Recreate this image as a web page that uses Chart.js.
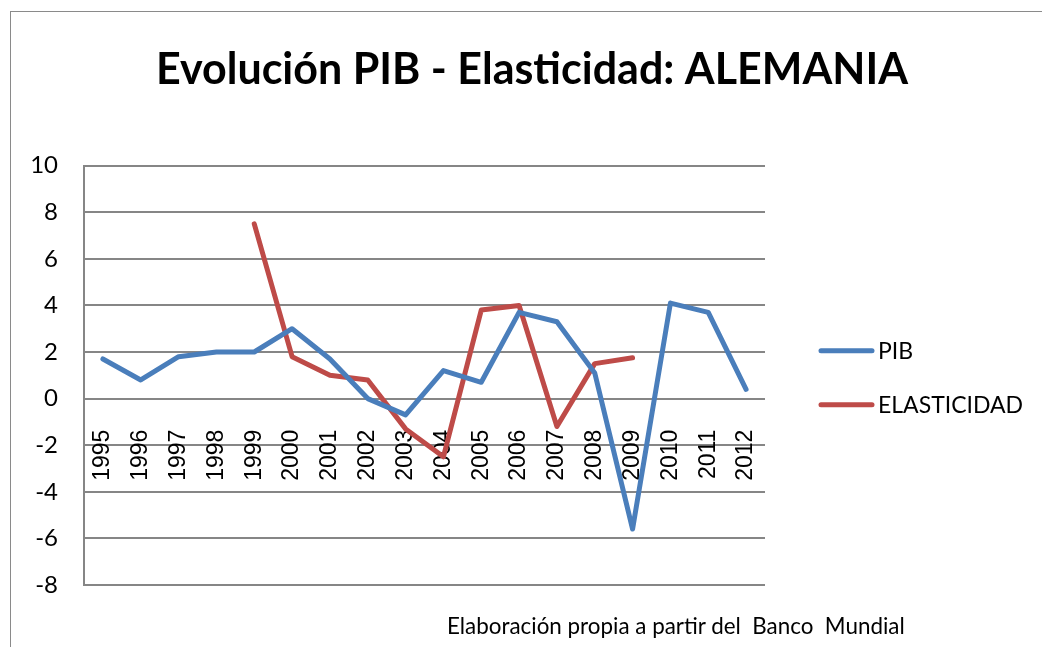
<!DOCTYPE html>
<html>
<head>
<meta charset="utf-8">
<script src="https://cdn.jsdelivr.net/npm/chart.js@4"></script>
<style>
  body { margin: 0; background: #fff; }
  #frame { position: absolute; left: 10px; top: 11px; width: 1100px; height: 700px;
           border-left: 1px solid #8a8a8a; border-top: 1px solid #8a8a8a; }
  #chart { position: absolute; left: 0; top: 0; }
  #source { position: absolute; left: 447px; top: 612px; font: 22.4px Lato, sans-serif;
            color: #000; white-space: pre; }
</style>
</head>
<body>
<div id="frame"></div>
<canvas id="chart" width="1042" height="647"></canvas>
<div id="source">Elaboración propia a partir del  Banco  Mundial</div>
<script>
const years = ["1995", "1996", "1997", "1998", "1999", "2000", "2001", "2002", "2003",
  "2004", "2005", "2006", "2007", "2008", "2009", "2010", "2011", "2012"];
const pib = [1.7, 0.8, 1.8, 2.0, 2.0, 3.0, 1.7, 0.0, -0.7, 1.2, 0.7, 3.7, 3.3, 1.1, -5.6, 4.1, 3.7, 0.4];
const elasticidad = [null, null, null, null, 7.5, 1.8, 1.0, 0.8, -1.3, -2.5, 3.8, 4.0, -1.2, 1.5, 1.75, null, null, null];
const yTicks = [-8, -6, -4, -2, 0, 2, 4, 6, 8, 10];

const gridColor = "#868686";

function lineSet(label, data, color) {
  return {
    label: label,
    data: data,
    borderColor: color,
    backgroundColor: color,
    borderWidth: 5,
    borderCapStyle: "round",
    borderJoinStyle: "round",
    pointRadius: 0,
    pointHoverRadius: 0,
    tension: 0,
    spanGaps: false,
  };
}

// legend drawn to the right of the plot, one line sample + label per dataset
const sideLegend = {
  id: "sideLegend",
  afterDraw(chart) {
    const { ctx, chartArea } = chart;
    const mid = (chartArea.top + chartArea.bottom) / 2;
    const x0 = chartArea.right + 56;
    chart.data.datasets.forEach((ds, i) => {
      const y = mid - 24.5 + i * 54;
      ctx.save();
      ctx.strokeStyle = ds.borderColor;
      ctx.lineWidth = ds.borderWidth;
      ctx.lineCap = "round";
      ctx.beginPath();
      ctx.moveTo(x0, y);
      ctx.lineTo(x0 + 51, y);
      ctx.stroke();
      ctx.fillStyle = "#000";
      ctx.font = "23px Lato, sans-serif";
      ctx.textBaseline = "middle";
      ctx.fillText(ds.label, x0 + 57, y + 1);
      ctx.restore();
    });
  },
};

const ctx = document.getElementById("chart").getContext("2d");
new Chart(ctx, {
  type: "line",
  data: {
    labels: years,
    datasets: [
      lineSet("PIB", pib, "#4a7ebb"),
      lineSet("ELASTICIDAD", elasticidad, "#be4b48"),
    ],
  },
  options: {
    responsive: false,
    animation: false,
    layout: { padding: { left: 27, right: 5, top: 0, bottom: 62 } },
    scales: {
      x: {
        position: { y: 0 },
        offset: true,
        grid: { display: false, drawTicks: false },
        border: { display: false },
        ticks: {
          autoSkip: false,
          maxRotation: 90,
          minRotation: 90,
          padding: 31,
          color: "#000",
          font: { family: "'Liberation Sans', Arial, sans-serif", size: 23 },
        },
        afterFit: (s) => { s.height = 0; },
      },
      y: {
        min: -8,
        max: 10,
        afterBuildTicks: (s) => { s.ticks = yTicks.map((v) => ({ value: v })); },
        grid: { color: gridColor, lineWidth: 2, drawTicks: false },
        border: { display: true, color: gridColor, width: 2 },
        ticks: {
          padding: 26,
          color: "#000",
          font: { family: "Lato, sans-serif", size: 24 },
        },
        afterFit: (s) => { s.width = 57; },
      },
      legendSpace: {
        type: "linear",
        axis: "y",
        position: "right",
        display: true,
        grid: { display: false },
        border: { display: false },
        ticks: { display: false },
        afterFit: (s) => { s.width = 272; },
      },
    },
    plugins: {
      title: {
        display: true,
        text: "Evolución PIB - Elasticidad: ALEMANIA",
        color: "#000",
        font: { family: "Lato, sans-serif", size: 43, weight: "bold" },
        padding: { top: 44, bottom: 70 },
      },
      legend: { display: false },
      tooltip: { enabled: false },
    },
  },
  plugins: [sideLegend],
});
</script>
</body>
</html>
